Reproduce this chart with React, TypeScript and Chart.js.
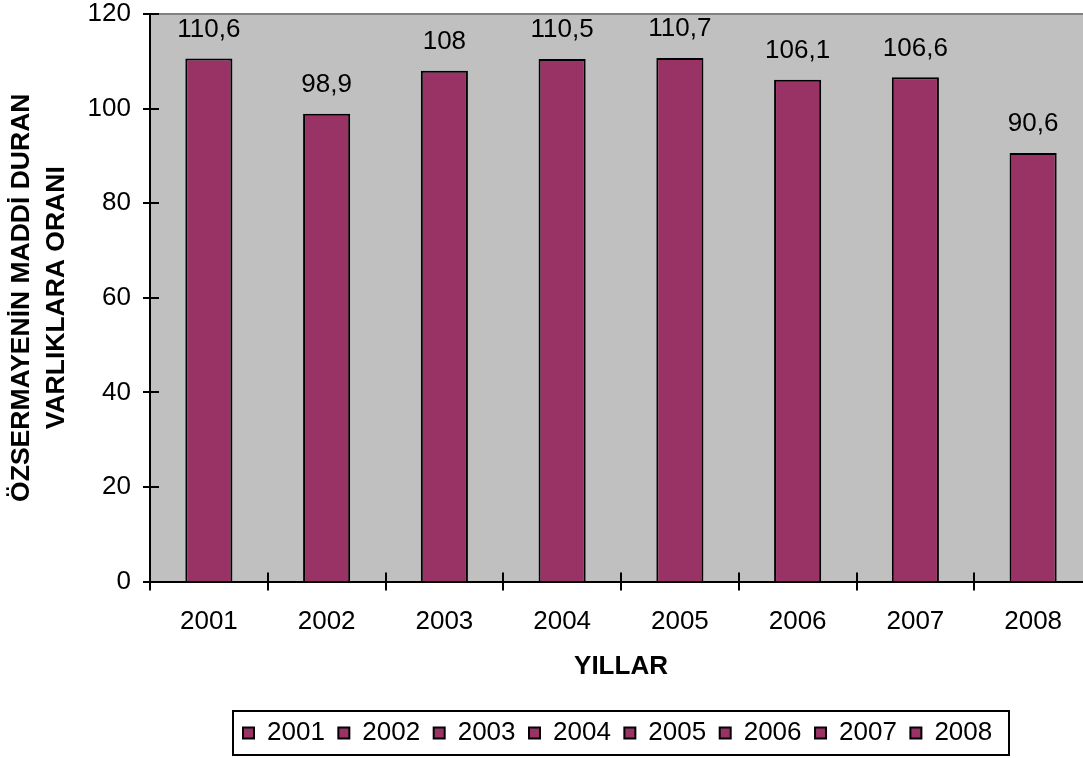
import React, { useEffect, useRef } from 'react';
import { Chart, registerables } from 'chart.js';

Chart.register(...registerables);

const categories = ['2001', '2002', '2003', '2004', '2005', '2006', '2007', '2008'];
const values = [110.6, 98.9, 108, 110.5, 110.7, 106.1, 106.6, 90.6];
const yTicks = [0, 20, 40, 60, 80, 100, 120];
const yTitle = ['ÖZSERMAYENİN MADDİ DURAN', 'VARLIKLARA ORANI'];
const xTitle = 'YILLAR';

const BAR = '#993366';
const FONT = "'Liberation Sans', Arial, sans-serif";
const LEGEND_START = 243;

const fmt = (v: number) => String(v).replace('.', ',');

const bgPlugin = {
  id: 'plotBg',
  beforeDraw(chart: any) {
    const { ctx, chartArea } = chart;
    const { left, top, right, bottom } = chartArea;
    ctx.save();
    ctx.fillStyle = '#C0C0C0';
    ctx.fillRect(left, top, right - left, bottom - top);
    ctx.strokeStyle = '#808080';
    ctx.lineWidth = 2;
    ctx.beginPath();
    ctx.moveTo(left, top);
    ctx.lineTo(right, top);
    ctx.stroke();
    ctx.restore();
  },
};

const tickPlugin = {
  id: 'crossTicks',
  afterDatasetsDraw(chart: any) {
    const { ctx, chartArea, scales } = chart;
    const y = scales.y;
    const x = scales.x;
    ctx.save();
    ctx.strokeStyle = '#000';
    ctx.lineWidth = 2;
    ctx.beginPath();
    yTicks.forEach((v) => {
      const py = Math.round(y.getPixelForValue(v));
      ctx.moveTo(chartArea.left - 7, py);
      ctx.lineTo(chartArea.left + 9, py);
    });
    for (let i = 0; i <= categories.length; i++) {
      const px = Math.round(x.getPixelForValue(i - 0.5));
      ctx.moveTo(px, chartArea.bottom - 9);
      ctx.lineTo(px, chartArea.bottom + 9);
    }
    ctx.stroke();

    // data labels above the bars
    const meta = chart.getDatasetMeta(0);
    ctx.fillStyle = '#000';
    ctx.font = `26px ${FONT}`;
    ctx.textAlign = 'center';
    ctx.textBaseline = 'middle';
    meta.data.forEach((bar: any, i: number) => {
      ctx.fillText(fmt(values[i]), bar.x, bar.y - 29);
    });
    ctx.restore();
  },
};

const legendShiftPlugin = {
  id: 'legendShift',
  afterLayout(chart: any) {
    const lg = chart.legend;
    if (!lg || !lg.lineWidths) return;
    const pad = lg.options.labels.padding;
    const start = (lg.left + pad + (lg.right - lg.lineWidths[0])) / 2;
    const shift = LEGEND_START - start;
    lg.left += shift;
    lg.right += shift;
  },
};

const legendBoxPlugin = {
  id: 'legendBox',
  afterDraw(chart: any) {
    const lg = chart.legend;
    if (!lg || !lg.legendHitBoxes || !lg.legendHitBoxes.length) return;
    const boxes = lg.legendHitBoxes;
    const minLeft = Math.min(...boxes.map((b: any) => b.left));
    const maxRight = Math.max(...boxes.map((b: any) => b.left + b.width));
    const { ctx } = chart;
    ctx.save();
    ctx.strokeStyle = '#000';
    ctx.lineWidth = 2;
    const l = Math.round(minLeft - 10);
    const r = Math.round(maxRight + 17);
    const t = Math.round(lg.top + 4);
    const b = Math.round(lg.bottom - 1);
    ctx.strokeRect(l, t, r - l, b - t);
    ctx.restore();
  },
};

export default function App() {
  const ref = useRef<HTMLCanvasElement | null>(null);

  useEffect(() => {
    if (!ref.current) return;
    Chart.defaults.font.family = FONT;
    Chart.defaults.color = '#000';
    const chart = new Chart(ref.current, {
      type: 'bar',
      data: {
        labels: categories,
        datasets: [
          {
            data: values,
            backgroundColor: BAR,
            borderColor: '#000',
            borderWidth: 2,
            barPercentage: 0.4,
            categoryPercentage: 1,
          },
        ],
      },
      options: {
        responsive: false,
        animation: false,
        devicePixelRatio: 1,
        layout: { padding: { top: 14, left: 0, right: 0, bottom: 2 } },
        plugins: {
          tooltip: { enabled: false },
          legend: {
            display: true,
            position: 'bottom',
            fullSize: false,
            align: 'center',
            onClick: () => {},
            labels: {
              boxWidth: 11,
              boxHeight: 11,
              padding: 13.5,
              color: '#000',
              font: { size: 26, family: FONT },
              generateLabels: () =>
                categories.map((c, i) => ({
                  text: c,
                  fillStyle: BAR,
                  strokeStyle: '#000',
                  lineWidth: 2,
                  hidden: false,
                  index: i,
                  datasetIndex: 0,
                  fontColor: '#000',
                })),
            },
          },
        },
        scales: {
          x: {
            type: 'category',
            offset: true,
            grid: { display: false, drawTicks: false },
            border: { display: true, color: '#000', width: 2 },
            ticks: {
              font: { size: 26, family: FONT },
              color: '#000',
              padding: 25,
              maxRotation: 0,
              autoSkip: false,
            },
            title: {
              display: true,
              text: xTitle,
              color: '#000',
              font: { size: 26, weight: 'bold', family: FONT },
              padding: { top: 0, bottom: 24 },
            },
            afterFit(s: any) {
              s.height = 125;
              s.paddingLeft = 0;
              s.paddingRight = 0;
            },
          },
          y: {
            min: 0,
            max: 120,
            grid: { display: false, drawTicks: false },
            border: { display: true, color: '#000', width: 2 },
            ticks: {
              stepSize: 20,
              font: { size: 26, family: FONT },
              color: '#000',
              padding: 19,
            },
            title: {
              display: true,
              text: yTitle,
              color: '#000',
              font: { size: 26.5, weight: 'bold', family: FONT, lineHeight: 1.33 },
              padding: { top: 4, bottom: 0 },
            },
            afterFit(s: any) {
              s.width = 150;
              s.paddingTop = 0;
              s.paddingBottom = 0;
            },
          },
        },
      } as any,
      plugins: [bgPlugin, tickPlugin, legendShiftPlugin, legendBoxPlugin],
    });
    return () => chart.destroy();
  }, []);

  return (
    <div
      style={{
        position: 'fixed',
        left: 0,
        top: 0,
        width: 1083,
        height: 758,
        overflow: 'hidden',
        background: '#fff',
      }}
    >
      <canvas ref={ref} width={1092} height={758} style={{ display: 'block' }} />
    </div>
  );
}
